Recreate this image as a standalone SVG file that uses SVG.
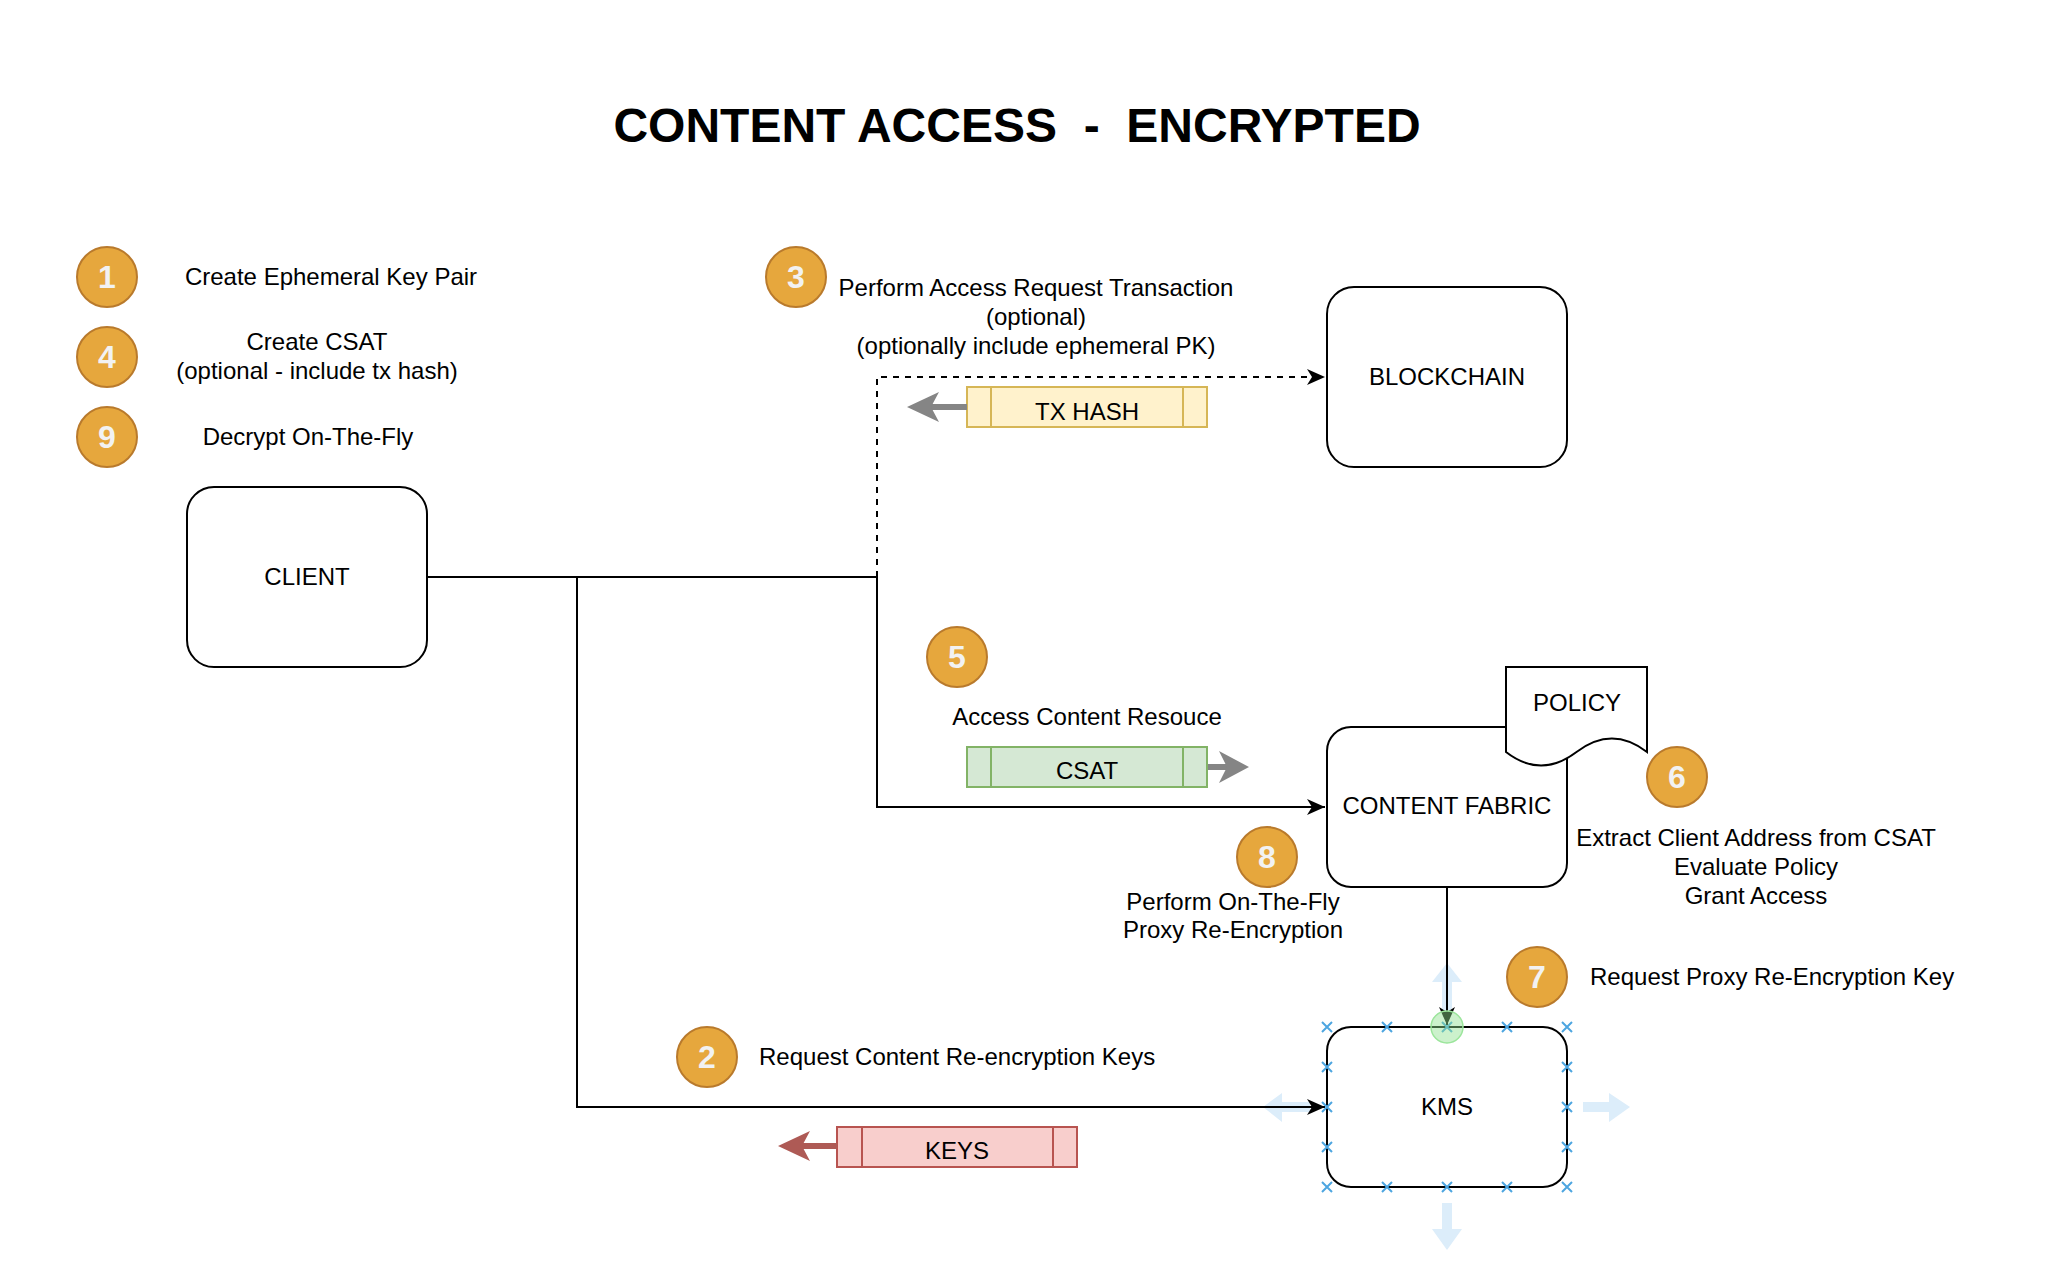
<svg xmlns="http://www.w3.org/2000/svg" width="2048" height="1274" viewBox="0 0 2048 1274">
<style>
  text { font-family: "Liberation Sans", Arial, Helvetica, sans-serif; fill: #000; }
  .t { font-size: 24px; }
  .mid { text-anchor: middle; }
  .title { font-size: 48px; font-weight: bold; text-anchor: middle; white-space: pre; }
  .box { fill: #fff; stroke: #000; stroke-width: 2; }
  .badge { fill: #e6a73d; stroke: #b97a2c; stroke-width: 2; }
  .num { font-size: 32px; font-weight: bold; text-anchor: middle; fill: #f2f2f2; }
  .conn { fill: none; stroke: #000; stroke-width: 2; }
  .dash { stroke-dasharray: 6 6; }
  .hover { fill: #dcedfa; }
  .xm { stroke: #4ea6e0; stroke-width: 2; fill: none; }
</style>
<defs>
  <marker id="arr" markerUnits="userSpaceOnUse" viewBox="0 0 18 18" refX="18" refY="9" markerWidth="18" markerHeight="18" orient="auto">
    <path d="M0,1 L18,9 L0,17 L5,9 Z" fill="#000"/>
  </marker>
</defs>
<rect width="2048" height="1274" fill="#fff"/>

<text class="title" x="1017" y="142" xml:space="preserve">CONTENT ACCESS  -  ENCRYPTED</text>

<!-- hover arrows around KMS -->
<g id="kms-hover">
  <path class="hover" d="M1447,963 L1462,982 L1452,982 L1452,1012 L1442,1012 L1442,982 L1432,982 Z"/>
  <path class="hover" d="M1630,1107 L1609,1093 L1609,1102 L1583,1102 L1583,1112 L1609,1112 L1609,1122 Z"/>
  <path class="hover" d="M1447,1250 L1462,1229 L1452,1229 L1452,1203 L1442,1203 L1442,1229 L1432,1229 Z"/>
  <path class="hover" d="M1263,1107 L1282,1093 L1282,1102 L1310,1102 L1310,1112 L1282,1112 L1282,1122 Z"/>
</g>

<g id="connectors">
  <path class="conn" d="M427,577 H877 V807 H1325" marker-end="url(#arr)"/>
  <path class="conn" d="M577,577 V1107 H1325" marker-end="url(#arr)"/>
  <path class="conn dash" d="M877,577 V377 H1325" marker-end="url(#arr)"/>
  <path class="conn" d="M1447,887 V1025" marker-end="url(#arr)"/>
</g>

<g id="client">
  <rect class="box" x="187" y="487" width="240" height="180" rx="27"/>
  <text class="t mid" x="307" y="585">CLIENT</text>
</g>
<g id="blockchain">
  <rect class="box" x="1327" y="287" width="240" height="180" rx="27"/>
  <text class="t mid" x="1447" y="385">BLOCKCHAIN</text>
</g>
<g id="content-fabric">
  <rect class="box" x="1327" y="727" width="240" height="160" rx="24"/>
  <text class="t mid" x="1447" y="814">CONTENT FABRIC</text>
</g>
<g id="policy">
  <path class="box" d="M1506,667 L1647,667 L1647,752 Q1612,725 1576.5,752 Q1541,779 1506,752 Z"/>
  <text class="t mid" x="1577" y="711">POLICY</text>
</g>
<g id="kms">
  <rect class="box" x="1327" y="1027" width="240" height="160" rx="24"/>
  <text class="t mid" x="1447" y="1115">KMS</text>
</g>

<!-- selection markers on KMS -->
<g id="kms-selection">
  <g class="xm">
    <path d="M1322,1022 l10,10 m0,-10 l-10,10"/>
    <path d="M1382,1022 l10,10 m0,-10 l-10,10"/>
    <path d="M1442,1022 l10,10 m0,-10 l-10,10"/>
    <path d="M1502,1022 l10,10 m0,-10 l-10,10"/>
    <path d="M1562,1022 l10,10 m0,-10 l-10,10"/>
    <path d="M1322,1182 l10,10 m0,-10 l-10,10"/>
    <path d="M1382,1182 l10,10 m0,-10 l-10,10"/>
    <path d="M1442,1182 l10,10 m0,-10 l-10,10"/>
    <path d="M1502,1182 l10,10 m0,-10 l-10,10"/>
    <path d="M1562,1182 l10,10 m0,-10 l-10,10"/>
    <path d="M1322,1062 l10,10 m0,-10 l-10,10"/>
    <path d="M1322,1102 l10,10 m0,-10 l-10,10"/>
    <path d="M1322,1142 l10,10 m0,-10 l-10,10"/>
    <path d="M1562,1062 l10,10 m0,-10 l-10,10"/>
    <path d="M1562,1102 l10,10 m0,-10 l-10,10"/>
    <path d="M1562,1142 l10,10 m0,-10 l-10,10"/>
  </g>
  <circle cx="1447" cy="1027" r="16" fill="#8fe08f" fill-opacity="0.45" stroke="#9be59b" stroke-width="1.5"/>
</g>

<!-- packets -->
<g id="tx-hash">
  <rect x="967" y="387" width="240" height="40" fill="#fff2cc" stroke="#d6b656" stroke-width="2"/>
  <path d="M991,387 V427 M1183,387 V427" stroke="#d6b656" stroke-width="2"/>
  <text class="t mid" x="1087" y="420">TX HASH</text>
  <path d="M931,407 H967" stroke="#858585" stroke-width="6"/>
  <path d="M907,407 L939,392 L931,407 L939,422 Z" fill="#858585"/>
</g>
<g id="csat">
  <rect x="967" y="747" width="240" height="40" fill="#d5e8d4" stroke="#82b366" stroke-width="2"/>
  <path d="M991,747 V787 M1183,747 V787" stroke="#82b366" stroke-width="2"/>
  <text class="t mid" x="1087" y="779">CSAT</text>
  <path d="M1208,767 H1232" stroke="#858585" stroke-width="6"/>
  <path d="M1249,767 L1219,751 L1227,767 L1219,783 Z" fill="#858585"/>
</g>
<g id="keys">
  <rect x="837" y="1127" width="240" height="40" fill="#f8cecc" stroke="#b85450" stroke-width="2"/>
  <path d="M862,1127 V1167 M1053,1127 V1167" stroke="#b85450" stroke-width="2"/>
  <text class="t mid" x="957" y="1159">KEYS</text>
  <path d="M802,1146 H837" stroke="#ae5a55" stroke-width="6"/>
  <path d="M778,1146 L810,1131 L802,1146 L810,1161 Z" fill="#ae5a55"/>
</g>

<!-- step badges -->
<g id="step-1">
  <circle class="badge" cx="107" cy="277" r="30"/>
  <text class="num" x="107" y="288">1</text>
  <text class="t mid" x="331" y="285">Create Ephemeral Key Pair</text>
</g>
<g id="step-4">
  <circle class="badge" cx="107" cy="357" r="30"/>
  <text class="num" x="107" y="368">4</text>
  <text class="t mid" x="317" y="350">Create CSAT</text>
  <text class="t mid" x="317" y="379">(optional - include tx hash)</text>
</g>
<g id="step-9">
  <circle class="badge" cx="107" cy="437" r="30"/>
  <text class="num" x="107" y="448">9</text>
  <text class="t mid" x="308" y="445">Decrypt On-The-Fly</text>
</g>
<g id="step-3">
  <circle class="badge" cx="796" cy="277" r="30"/>
  <text class="num" x="796" y="288">3</text>
  <text class="t mid" x="1036" y="296">Perform Access Request Transaction</text>
  <text class="t mid" x="1036" y="325">(optional)</text>
  <text class="t mid" x="1036" y="354">(optionally include ephemeral PK)</text>
</g>
<g id="step-5">
  <circle class="badge" cx="957" cy="657" r="30"/>
  <text class="num" x="957" y="668">5</text>
  <text class="t mid" x="1087" y="725">Access Content Resouce</text>
</g>
<g id="step-6">
  <circle class="badge" cx="1677" cy="777" r="30"/>
  <text class="num" x="1677" y="788">6</text>
  <text class="t mid" x="1756" y="846">Extract Client Address from CSAT</text>
  <text class="t mid" x="1756" y="875">Evaluate Policy</text>
  <text class="t mid" x="1756" y="904">Grant Access</text>
</g>
<g id="step-8">
  <circle class="badge" cx="1267" cy="857" r="30"/>
  <text class="num" x="1267" y="868">8</text>
  <text class="t mid" x="1233" y="910">Perform On-The-Fly</text>
  <text class="t mid" x="1233" y="938">Proxy Re-Encryption</text>
</g>
<g id="step-7">
  <circle class="badge" cx="1537" cy="977" r="30"/>
  <text class="num" x="1537" y="988">7</text>
  <text class="t" x="1590" y="985">Request Proxy Re-Encryption Key</text>
</g>
<g id="step-2">
  <circle class="badge" cx="707" cy="1057" r="30"/>
  <text class="num" x="707" y="1068">2</text>
  <text class="t" x="759" y="1065">Request Content Re-encryption Keys</text>
</g>
</svg>
